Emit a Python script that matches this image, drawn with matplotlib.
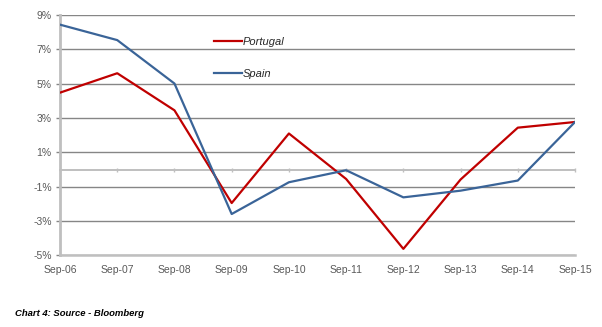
"""
Annual change, Portugal vs Spain, Sep-06 to Sep-15
"""

import matplotlib
matplotlib.use('Agg')
import matplotlib.pyplot as plt
import matplotlib.ticker as mticker

#---------------------------------------------------------------------------------------------------
# Data
#---------------------------------------------------------------------------------------------------

dates = ['Sep-06', 'Sep-07', 'Sep-08', 'Sep-09', 'Sep-10', 'Sep-11',
         'Sep-12', 'Sep-13', 'Sep-14', 'Sep-15']
portugal = [4.48, 5.61, 3.45, -1.95, 2.10, -0.55, -4.62, -0.58, 2.44, 2.77]
spain = [8.44, 7.54, 5.01, -2.59, -0.74, -0.04, -1.62, -1.23, -0.64, 2.77]
yticks = [-5, -3, -1, 1, 3, 5, 7, 9]

#---------------------------------------------------------------------------------------------------
# Plot
#---------------------------------------------------------------------------------------------------

plt.rcParams['font.family'] = ['Liberation Sans', 'DejaVu Sans']
fontsize = 7.5
lgray = '#bfbfbf'
tcolor = '#595959'

fig = plt.figure(figsize=(6.02, 3.27), dpi=100)
ax = fig.add_axes([0.0997, 0.219, 0.8555, 0.735])

x = list(range(len(dates)))
ax.plot(x, portugal, c='#c00000', lw=1.6, label='Portugal', zorder=3)
ax.plot(x, spain, c='#3a6498', lw=1.6, label='Spain', zorder=3)

ax.set_xlim(0, len(dates) - 1)
ax.set_ylim(-5, 9)
ax.set_yticks(yticks)
ax.yaxis.set_major_formatter(mticker.FuncFormatter(lambda v, pos: f"{v:.0f}%"))
ax.set_xticks(x)
ax.set_xticklabels(dates)
ax.tick_params(axis='x', length=0, pad=7, labelsize=fontsize, labelcolor=tcolor)
ax.tick_params(axis='y', length=3, width=1, color='#868686', pad=3,
               labelsize=fontsize, labelcolor=tcolor)

# horizontal gridlines
ax.grid(axis='y', color='#868686', lw=1.0)
ax.set_axisbelow(True)

for s in ['top', 'right']:
    ax.spines[s].set_visible(False)
ax.spines['left'].set_color(lgray)
ax.spines['left'].set_linewidth(2)
ax.spines['bottom'].set_color(lgray)
ax.spines['bottom'].set_linewidth(1.8)

# category axis crossing at zero
zax = ax.secondary_xaxis(5 / 14)
zax.set_xticks(x)
zax.set_xticklabels([])
zax.tick_params(direction='inout', length=3.5, width=1, color=lgray)
zax.spines['bottom'].set_color(lgray)
zax.spines['bottom'].set_linewidth(1.4)

leg = ax.legend(loc='upper left', bbox_to_anchor=(0.28, 0.951), frameon=False,
                prop={'style': 'italic', 'size': 8}, handlelength=2.5,
                handletextpad=0.1, labelspacing=2.0)
for t in leg.get_texts():
    t.set_color('#262626')

fig.text(0.025, 0.035, 'Chart 4: Source - Bloomberg', size=6.8, style='italic',
         weight='bold', color='black')

plt.savefig('out.png', dpi=100)
plt.close()
